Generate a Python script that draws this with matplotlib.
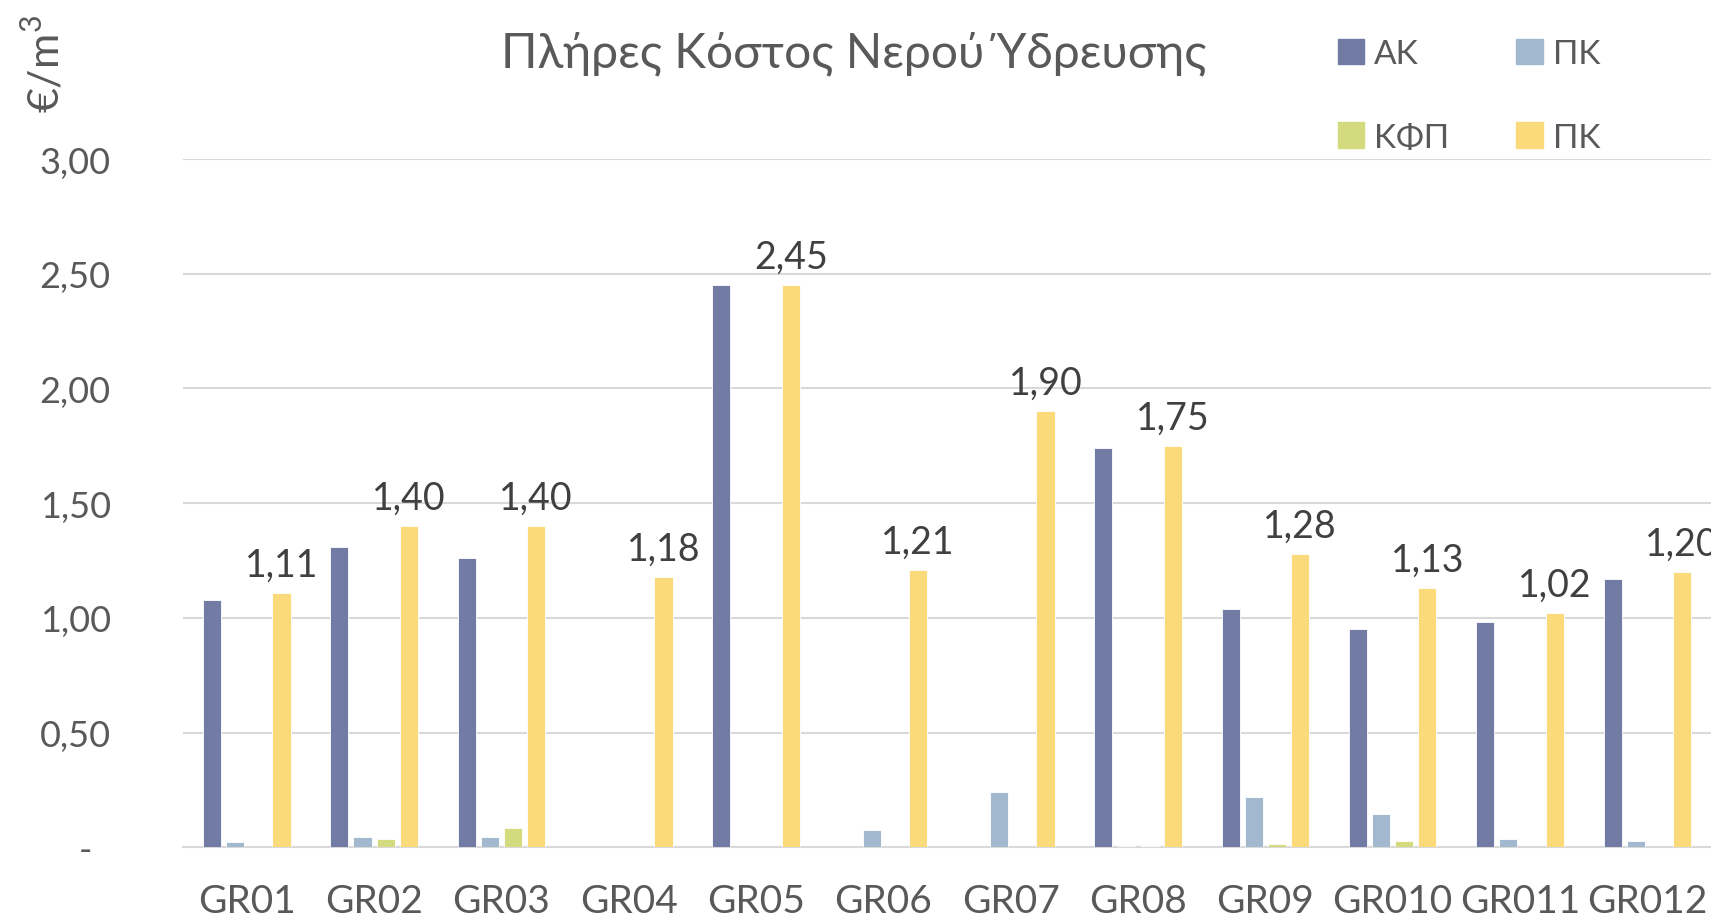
import numpy as np
import matplotlib
matplotlib.use("Agg")
import matplotlib.pyplot as plt
from matplotlib.patches import Patch

plt.rcParams['font.family'] = ['Lato', 'Noto Sans', 'DejaVu Sans']
plt.rcParams['mathtext.fontset'] = 'custom'
plt.rcParams['mathtext.rm'] = 'Lato'

groups = ["GR01", "GR02", "GR03", "GR04", "GR05", "GR06",
          "GR07", "GR08", "GR09", "GR010", "GR011", "GR012"]
ak = [1.08, 1.31, 1.26, 0.0, 2.45, 0.0, 0.0, 1.74, 1.04, 0.95, 0.98, 1.17]
pk = [0.025, 0.045, 0.045, 0.0, 0.0, 0.073, 0.239, 0.005, 0.217, 0.147, 0.037, 0.026]
kfp = [0.0, 0.037, 0.086, 0.0, 0.0, 0.0, 0.0, 0.005, 0.016, 0.026, 0.0, 0.0]
total = [1.11, 1.40, 1.40, 1.18, 2.45, 1.21, 1.90, 1.75, 1.28, 1.13, 1.02, 1.20]

series = [("ΑΚ", ak, "#717ba3"), ("ΠΚ", pk, "#a2b8cf"),
          ("ΚΦΠ", kfp, "#d4db7e"), ("ΠΚ", total, "#fada7a")]

TXT = "#595959"
fig = plt.figure(figsize=(17.11, 9.2), dpi=100)
ax = fig.add_axes([0.107, 0.078, 0.893, 0.748])

x = np.arange(len(groups))
step, width = 0.182, 0.142
for k, (name, vals, col) in enumerate(series):
    ax.bar(x + (k - 1.5) * step, vals, width, color=col,
           edgecolor="white", linewidth=0.6, zorder=3)

# data labels only on the total series
for xi, v in zip(x + 1.5 * step, total):
    ax.text(xi, v + 0.045, f"{v:.2f}".replace(".", ","), ha="center",
            va="bottom", fontsize=27, color="#404040", clip_on=False)

ax.set_xlim(-0.5, 11.5)
ax.set_ylim(0, 3.0)
yt = np.arange(0, 3.01, 0.5)
ax.set_yticks(yt)
ax.set_yticklabels(["-  "] + [f"{t:.2f}".replace(".", ",") for t in yt[1:]])
ax.set_xticks(x)
ax.set_xticklabels(groups)
ax.tick_params(axis="both", length=0, labelsize=26, colors=TXT)
ax.tick_params(axis="x", labelsize=28, pad=26)
ax.tick_params(axis="y", pad=52)
ax.grid(axis="y", color="#d9d9d9", lw=1.5, zorder=0)
for s in ["top", "right", "left"]:
    ax.spines[s].set_visible(False)
ax.spines["bottom"].set_color("#d9d9d9")
ax.spines["bottom"].set_linewidth(1.5)

fig.text(0.499, 0.942, "Πλήρες Κόστος Νερού Ύδρευσης", ha="center",
         va="center", fontsize=34.5, color=TXT)
fig.text(0.026, 0.93, r"€/m$^{\mathrm{3}}$", rotation=90, ha="center",
         va="center", fontsize=31, color=TXT)

handles = [Patch(color=c) for _, _, c in series]
names = [n for n, _, _ in series]
order = [0, 2, 1, 3]
fig.legend([handles[i] for i in order], [names[i] for i in order],
           ncol=2, loc="upper left", bbox_to_anchor=(0.772, 0.975),
           frameon=False, fontsize=24, labelcolor=TXT,
           handlelength=0.8, handleheight=0.8, handletextpad=0.3,
           columnspacing=2.0, labelspacing=1.6, borderpad=0)

fig.savefig("out.png", dpi=100)
